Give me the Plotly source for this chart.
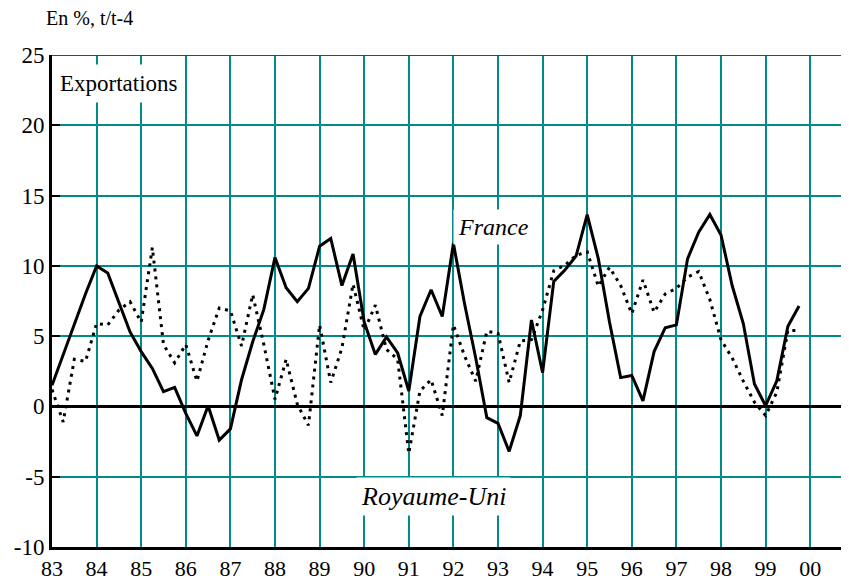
import plotly.graph_objects as go

# quarterly observations, 1983 Q1 -> 1999 Q4
YEARS = list(range(1983, 2000))
QUARTERS = [0.0, 0.25, 0.5, 0.75]

FRANCE = [
    1.5, 3.7, 5.9, 8.0,
    10.0, 9.5, 7.4, 5.3,
    3.9, 2.7, 1.05, 1.35,
    -0.5, -2.1, 0.05, -2.4,
    -1.6, 1.9, 4.6, 6.9,
    10.6, 8.45, 7.45, 8.4,
    11.4, 11.95, 8.6, 10.85,
    6.0, 3.7, 4.95, 3.8,
    1.1, 6.4, 8.3, 6.4,
    11.6, 7.3, 3.45, -0.8,
    -1.2, -3.2, -0.65, 6.15,
    2.4, 8.9, 9.7, 10.7,
    13.65, 10.5, 6.0, 2.05,
    2.2, 0.4, 3.9, 5.6,
    5.8, 10.5, 12.4, 13.65,
    12.2, 8.6, 5.9, 1.6,
    0.05, 1.8, 5.7, 7.15,
]

ROYAUME_UNI = [
    1.2, -1.1, 3.35, 3.2,
    5.9, 5.8, 6.85, 7.45,
    6.0, 11.3, 4.4, 3.1,
    4.4, 1.8, 4.7, 7.0,
    6.8, 4.3, 7.95, 4.4,
    0.5, 3.35, 0.15, -1.35,
    5.8, 1.7, 4.15, 8.7,
    5.4, 7.2, 4.05, 3.35,
    -3.35, 1.1, 1.9, -0.65,
    5.8, 3.6, 1.8, 5.35,
    5.2, 1.7, 4.65, 4.75,
    6.85, 9.65, 10.05, 10.75,
    11.0, 8.55, 9.9, 8.6,
    6.6, 9.0, 6.7, 8.0,
    8.4, 9.2, 9.6, 7.6,
    4.75, 3.45, 1.8, 0.3,
    -0.65, 1.0, 5.4, 5.4,
]

X_TICKS = list(range(83, 101))
X_TICK_LABELS = ["83", "84", "85", "86", "87", "88", "89", "90", "91",
                 "92", "93", "94", "95", "96", "97", "98", "99", "00"]
Y_TICKS = [-10, -5, 0, 5, 10, 15, 20, 25]
Y_TICK_LABELS = ["-10", "-5", "0", "5", "10", "15", "20", "25"]

FONT = "Times New Roman, Liberation Serif, serif"
GRID_COLOR = "rgb(0,138,138)"


def build_figure():
    dates = [y - 1900 + q for y in YEARS for q in QUARTERS]

    fig = go.Figure()
    fig.add_trace(
        go.Scatter(
            x=dates,
            y=ROYAUME_UNI,
            mode="lines",
            name="Royaume-Uni",
            line=dict(color="black", width=3, dash="3px,5px"),
        )
    )
    fig.add_trace(
        go.Scatter(
            x=dates,
            y=FRANCE,
            mode="lines",
            name="France",
            line=dict(color="black", width=3),
        )
    )

    fig.update_xaxes(
        range=[83, 100.87],
        tickvals=X_TICKS,
        ticktext=X_TICK_LABELS,
        showgrid=True,
        gridcolor=GRID_COLOR,
        gridwidth=2,
        showline=True,
        linecolor="black",
        linewidth=3,
        ticks="",
        zeroline=False,
        tickfont=dict(family=FONT, size=22, color="black"),
    )
    fig.update_yaxes(
        range=[-10, 25],
        tickvals=Y_TICKS,
        ticktext=Y_TICK_LABELS,
        showgrid=True,
        gridcolor=GRID_COLOR,
        gridwidth=2,
        showline=True,
        linecolor="black",
        linewidth=3,
        ticks="inside",
        ticklen=8,
        tickwidth=2,
        tickcolor="black",
        zeroline=True,
        zerolinecolor="black",
        zerolinewidth=3,
        tickfont=dict(family=FONT, size=23, color="black"),
    )

    # dark frame line along the top of the plot
    fig.add_shape(
        type="line", xref="paper", yref="y", x0=0, x1=1, y0=25, y1=25,
        line=dict(color="#444444", width=2),
    )

    fig.add_annotation(
        text="En %, t/t-4", xref="paper", yref="paper", x=-0.01, y=1.075,
        xanchor="left", yanchor="middle", showarrow=False,
        font=dict(family=FONT, size=20, color="black"),
    )
    fig.add_annotation(
        text="Exportations", x=83.03, y=23.0, xanchor="left", yanchor="middle",
        showarrow=False, bgcolor="white", borderpad=6,
        font=dict(family=FONT, size=23, color="black"),
    )
    fig.add_annotation(
        text="<i>France</i>", x=92.9, y=12.8, xanchor="center", yanchor="middle",
        showarrow=False, bgcolor="white", borderpad=4,
        font=dict(family=FONT, size=24, color="black"),
    )
    fig.add_annotation(
        text="<i>Royaume-Uni</i>", x=91.55, y=-6.4, xanchor="center", yanchor="middle",
        showarrow=False, bgcolor="white", borderpad=4,
        font=dict(family=FONT, size=26, color="black"),
    )

    # the page body adds an 8px offset, so the figure is sized to fit the window
    fig.update_layout(
        width=841,
        height=573,
        margin=dict(l=44, r=0, t=47, b=21),
        plot_bgcolor="white",
        paper_bgcolor="white",
        showlegend=False,
    )
    return fig


if __name__ == "__main__":
    fig = build_figure()
    fig.write_html("out.html")
